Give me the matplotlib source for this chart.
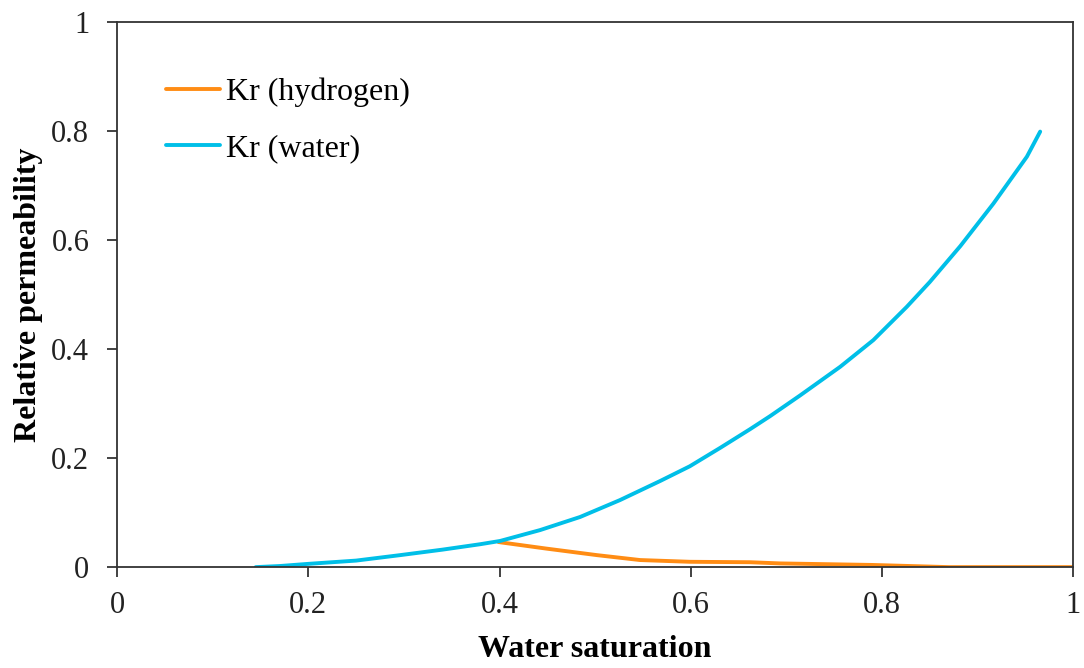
import matplotlib
matplotlib.use("Agg")
import matplotlib.pyplot as plt
from matplotlib.ticker import FixedLocator

plt.rcParams['font.family'] = ['Liberation Serif', 'DejaVu Serif']

# Water relative permeability
sw_water = [0.145, 0.17, 0.2, 0.25, 0.296, 0.34, 0.3797, 0.4006, 0.4425, 0.4843,
            0.526, 0.568, 0.599, 0.631, 0.662, 0.683, 0.7144, 0.7563, 0.791, 0.826,
            0.850, 0.882, 0.9166, 0.9516, 0.9655]
kr_water = [0.0, 0.002, 0.006, 0.012, 0.022, 0.032, 0.042, 0.048, 0.068, 0.092,
            0.123, 0.158, 0.185, 0.219, 0.253, 0.277, 0.315, 0.3675, 0.4165, 0.4776,
            0.523, 0.589, 0.667, 0.753, 0.799]

# Hydrogen relative permeability
sw_h2 = [0.399, 0.449, 0.502, 0.547, 0.599, 0.662, 0.6935, 0.79, 0.87, 0.93, 1.0]
kr_h2 = [0.046, 0.034, 0.022, 0.013, 0.0098, 0.009, 0.0068, 0.004, 0.0, 0.0, 0.0]

x_ticks = [0, 0.2, 0.4, 0.6, 0.8, 1]
y_ticks = [0, 0.2, 0.4, 0.6, 0.8, 1]
tick_labels = ['0', '0.2', '0.4', '0.6', '0.8', '1']

fig = plt.figure(figsize=(10.84, 6.68), dpi=100)
ax = fig.add_axes([0.108, 0.151, 0.882, 0.816])

ax.plot(sw_h2, kr_h2, color='#FF8C14', lw=2.8, label='Kr (hydrogen)',
        solid_capstyle='round', solid_joinstyle='round')
ax.plot(sw_water, kr_water, color='#00BFE8', lw=2.8, label='Kr (water)',
        solid_capstyle='round', solid_joinstyle='round')

ax.set_xlim(0, 1)
ax.set_ylim(0, 1)
ax.xaxis.set_major_locator(FixedLocator(x_ticks))
ax.yaxis.set_major_locator(FixedLocator(y_ticks))
ax.set_xticklabels(tick_labels)
ax.set_yticklabels(tick_labels)
ax.tick_params(direction='out', length=7, width=1.2, labelsize=22, colors='#222222')
ax.tick_params(axis='x', pad=10)
ax.tick_params(axis='y', pad=13)
for s in ax.spines.values():
    s.set_linewidth(1.3)
    s.set_color('#333333')

ax.set_xlabel('Water saturation', fontsize=23, fontweight='bold', labelpad=11)
ax.set_ylabel('Relative permeability', fontsize=23, fontweight='bold', labelpad=6)

leg = ax.legend(loc='upper left', bbox_to_anchor=(0.051, 0.898), frameon=False,
                fontsize=23, handlelength=1.7, handletextpad=0.18, labelspacing=0.85,
                borderaxespad=0, borderpad=0)

fig.savefig('out.png', dpi=100)
